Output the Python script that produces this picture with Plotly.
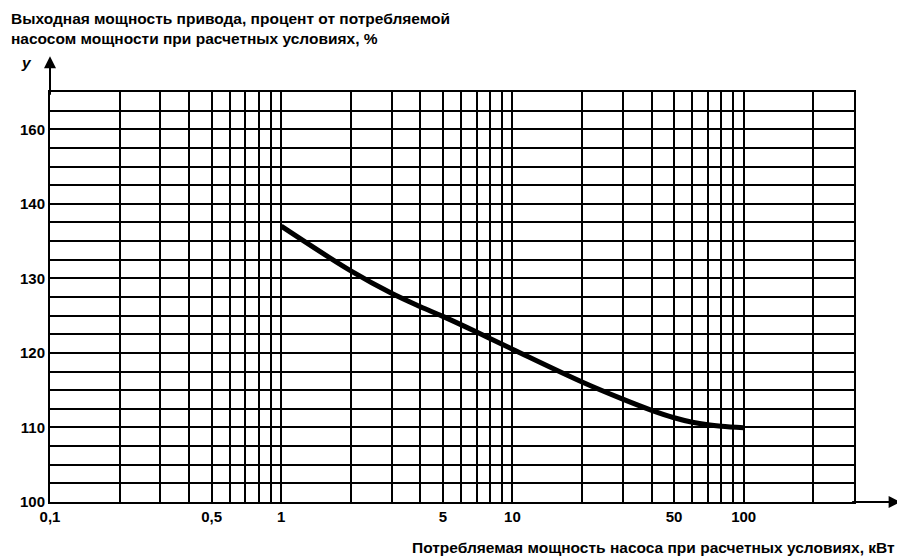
import plotly.graph_objects as go

# Data
power_kw = [1, 2, 3, 4, 5, 7, 10, 20, 30, 40, 50, 60, 70, 80, 100]
output_pct = [137.0, 131.0, 128.0, 126.2, 124.9, 122.8, 120.5, 116.1, 113.8, 112.3, 111.3, 110.7, 110.35, 110.15, 109.95]

x_grid_vals = [0.1, 0.2, 0.3, 0.4, 0.5, 0.6, 0.7, 0.8, 0.9,
               1, 2, 3, 4, 5, 6, 7, 8, 9,
               10, 20, 30, 40, 50, 60, 70, 80, 90,
               100, 200, 300]
x_labels = {0.1: "0,1", 0.5: "0,5", 1: "1", 5: "5", 10: "10", 50: "50", 100: "100"}
x_tick_text = [x_labels.get(v, "") for v in x_grid_vals]

y_grid_vals = [100 + 2.5 * i for i in range(23)]
y_labels = {100: "100", 110: "110", 120: "120", 130: "130", 140: "140", 150: "160"}
y_tick_text = [y_labels.get(v, "") for v in y_grid_vals]

y_title = "Выходная мощность привода, процент от потребляемой<br>насосом мощности при расчетных условиях, %"
x_title = "Потребляемая мощность насоса при расчетных условиях, кВт"

FONT = dict(family="Liberation Sans, Arial, sans-serif", size=15.5, color="black", weight="bold")
TICKFONT = dict(family="Liberation Sans, Arial, sans-serif", size=15, color="black", weight="bold")

fig = go.Figure()
fig.add_trace(go.Scatter(
    x=power_kw, y=output_pct, mode="lines",
    line=dict(color="black", width=5, shape="spline", smoothing=1.0),
    hoverinfo="skip", showlegend=False,
))

# The page body has an 8px margin, so the figure is sized/offset to keep the
# plot area at the reference's pixel position.
fig.update_layout(
    width=897, height=548,
    margin=dict(l=42, r=51, t=84, b=54, autoexpand=False),
    paper_bgcolor="white", plot_bgcolor="white",
    font=FONT,
    xaxis=dict(
        type="log", range=[-1, 2.4771], automargin=False,
        tickmode="array", tickvals=x_grid_vals, ticktext=x_tick_text,
        showgrid=True, gridcolor="black", gridwidth=2,
        showline=True, linecolor="black", linewidth=2, mirror=True,
        ticks="", zeroline=False, tickfont=TICKFONT,
    ),
    yaxis=dict(
        range=[100, 155], automargin=False,
        tickmode="array", tickvals=y_grid_vals, ticktext=y_tick_text,
        showgrid=True, gridcolor="black", gridwidth=2,
        showline=True, linecolor="black", linewidth=2, mirror=True,
        ticks="", zeroline=False, tickfont=TICKFONT,
    ),
    annotations=[
        dict(text=y_title, xref="paper", yref="paper", x=-0.051, y=1.105,
             xanchor="left", yanchor="bottom", align="left", showarrow=False, font=FONT),
        dict(text="<i>y</i>", xref="paper", yref="paper", x=-0.02, y=1.073,
             xanchor="right", yanchor="middle", showarrow=False, font=FONT),
        dict(text=x_title, xref="paper", yref="paper", x=1.054, y=-0.085,
             xanchor="right", yanchor="top", showarrow=False, font=FONT),
        # axis arrows
        dict(x=0, y=1.087, xref="paper", yref="paper", ax=0, ay=40,
             showarrow=True, arrowhead=2, arrowsize=1.2, arrowwidth=2, arrowcolor="black", text=""),
        dict(x=1.058, y=0, xref="paper", yref="paper", ax=-50, ay=0,
             showarrow=True, arrowhead=2, arrowsize=1.2, arrowwidth=2, arrowcolor="black", text=""),
    ],
)

fig.write_html("out.html")
